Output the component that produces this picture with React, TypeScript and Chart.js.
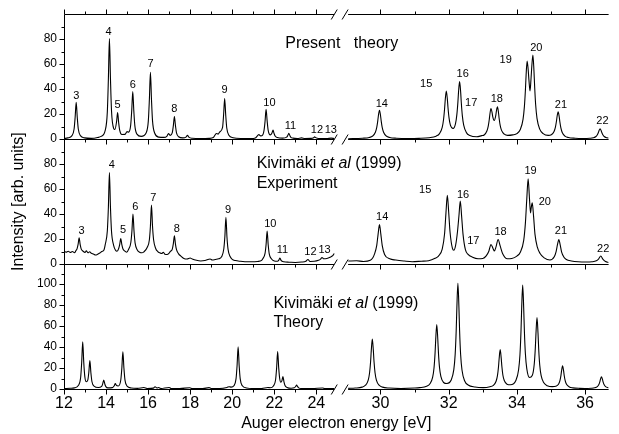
import React, { useEffect, useRef } from 'react';
import { Chart, registerables } from 'chart.js';
Chart.register(...registerables);

const FONT = '"Liberation Sans", Arial, Helvetica, sans-serif';

// Axis ranges (broken energy axis)
const leftMinE = 12;
const leftMaxE = 25.51;
const leftDataEnd = 24.85;
const rightMinE = 29.05;
const rightMaxE = 36.69;
const leftTickE = [12, 13, 14, 15, 16, 17, 18, 19, 20, 21, 22, 23, 24];
const rightTickE = [30, 31, 32, 33, 34, 35, 36];
const topMax = 100;
const midMax = 100;
const botMax = 119;

// ---- Present theory (top panel)
const presentLeftE = [12.0, 12.18, 12.38, 12.48, 12.53, 12.58, 12.63, 12.68, 12.78, 12.98, 13.3, 13.6, 13.76, 13.96, 14.06, 14.11, 14.16, 14.21, 14.26, 14.36, 14.42, 14.5, 14.55, 14.6, 14.65, 14.75, 14.9, 15.0, 15.07, 15.17, 15.22, 15.27, 15.32, 15.37, 15.47, 15.67, 15.91, 16.01, 16.06, 16.11, 16.16, 16.21, 16.31, 16.51, 16.75, 16.9, 16.97, 17.05, 17.15, 17.2, 17.25, 17.3, 17.35, 17.45, 17.65, 17.8, 17.87, 17.95, 18.1, 18.5, 18.9, 19.1, 19.25, 19.33, 19.4, 19.54, 19.59, 19.64, 19.69, 19.74, 19.84, 20.04, 20.4, 20.9, 21.1, 21.27, 21.35, 21.41, 21.51, 21.56, 21.61, 21.66, 21.71, 21.81, 21.89, 21.94, 21.99, 22.04, 22.14, 22.4, 22.59, 22.64, 22.69, 22.74, 22.79, 22.89, 23.1, 23.3, 23.45, 23.75, 23.87, 23.92, 23.97, 24.1, 24.5, 24.7, 24.85];
const presentLeftI = [0.5, 1.0, 2.8, 8.1, 17.5, 29.4, 17.5, 8.1, 2.8, 1.0, 0.6, 1.3, 2.2, 7.0, 21.6, 47.8, 80.5, 48.2, 22.5, 8.7, 7.7, 14.0, 21.2, 13.1, 7.0, 3.7, 3.8, 6.0, 5.6, 11.0, 22.6, 38.0, 22.6, 10.6, 4.0, 2.2, 5.1, 14.6, 31.8, 53.5, 31.8, 14.6, 4.9, 1.6, 1.4, 2.5, 4.5, 3.0, 5.2, 10.8, 18.0, 10.8, 5.0, 1.9, 1.0, 1.6, 3.0, 1.4, 0.7, 0.4, 0.6, 1.3, 4.5, 4.0, 5.7, 9.4, 19.5, 32.5, 19.3, 8.9, 3.1, 1.1, 0.5, 0.5, 1.0, 3.6, 2.6, 2.7, 6.8, 14.1, 23.8, 14.6, 7.0, 3.4, 4.9, 7.2, 4.5, 2.5, 1.3, 0.8, 1.6, 2.9, 4.6, 2.9, 1.5, 0.8, 0.5, 1.0, 0.5, 0.6, 1.2, 1.8, 1.2, 0.5, 0.4, 0.8, 0.5];
const presentRightE = [29.05, 29.47, 29.67, 29.77, 29.85, 29.89, 29.92, 29.94, 29.97, 30.0, 30.02, 30.05, 30.09, 30.17, 30.27, 30.47, 30.8, 31.13, 31.43, 31.63, 31.73, 31.81, 31.85, 31.88, 31.9, 31.93, 31.96, 31.98, 32.01, 32.05, 32.13, 32.2, 32.24, 32.27, 32.29, 32.32, 32.35, 32.37, 32.4, 32.44, 32.52, 32.62, 32.82, 32.97, 33.04, 33.12, 33.16, 33.19, 33.21, 33.24, 33.27, 33.29, 33.335, 33.38, 33.4, 33.43, 33.46, 33.48, 33.51, 33.55, 33.63, 33.73, 33.88, 34.0, 34.1, 34.18, 34.22, 34.25, 34.27, 34.3, 34.33, 34.355, 34.385, 34.415, 34.44, 34.47, 34.5, 34.52, 34.55, 34.59, 34.67, 34.77, 34.92, 35.01, 35.09, 35.13, 35.16, 35.18, 35.21, 35.24, 35.26, 35.29, 35.33, 35.41, 35.51, 35.71, 35.94, 36.14, 36.24, 36.32, 36.36, 36.39, 36.41, 36.44, 36.47, 36.49, 36.52, 36.56, 36.64, 36.69];
const presentRightI = [0.3, 0.7, 1.3, 2.5, 5.5, 9.4, 14.6, 19.1, 23.1, 19.1, 14.6, 9.4, 5.5, 2.5, 1.3, 0.7, 0.45, 0.6, 1.15, 2.4, 4.4, 9.4, 15.9, 24.5, 31.9, 38.5, 32.2, 25.1, 17.0, 11.2, 8.55, 12.4, 19.8, 29.6, 38.3, 46.0, 38.0, 29.1, 18.8, 11.2, 5.2, 2.9, 1.9, 2.8, 3.3, 6.45, 10.4, 15.7, 20.3, 24.5, 21.6, 18.2, 14.9, 18.8, 22.6, 25.8, 21.3, 16.5, 11.0, 7.0, 4.0, 3.0, 3.4, 4.4, 7.7, 15.8, 26.0, 39.4, 51.1, 62.6, 55.9, 46.7, 38.5, 48.6, 59.4, 67.4, 55.0, 42.5, 27.7, 16.6, 8.0, 4.4, 3.0, 3.5, 6.1, 9.6, 14.3, 18.3, 21.9, 18.1, 13.9, 9.0, 5.3, 2.4, 1.3, 0.7, 0.5, 0.7, 1.1, 2.1, 3.5, 5.3, 6.9, 8.3, 6.9, 5.3, 3.5, 2.1, 1.1, 0.9];

// ---- Kivimäki et al (1999) experiment (middle panel)
const expLeftE = [12.0, 12.1, 12.2, 12.3, 12.4, 12.5, 12.57, 12.62, 12.67, 12.72, 12.77, 12.82, 12.9, 13.0, 13.06, 13.14, 13.22, 13.3, 13.4, 13.5, 13.6, 13.7, 13.8, 13.9, 13.96, 14.06, 14.11, 14.16, 14.21, 14.26, 14.36, 14.45, 14.52, 14.6, 14.65, 14.7, 14.75, 14.8, 14.88, 14.98, 15.08, 15.18, 15.23, 15.28, 15.33, 15.38, 15.48, 15.6, 15.7, 15.8, 15.96, 16.06, 16.11, 16.16, 16.21, 16.26, 16.36, 16.46, 16.56, 16.65, 16.72, 16.8, 16.9, 17.0, 17.05, 17.15, 17.2, 17.25, 17.3, 17.35, 17.45, 17.55, 17.7, 17.85, 18.0, 18.1, 18.3, 18.5, 18.7, 18.95, 19.05, 19.2, 19.35, 19.5, 19.6, 19.65, 19.7, 19.75, 19.8, 19.9, 20.0, 20.15, 20.4, 20.6, 20.9, 21.2, 21.4, 21.46, 21.56, 21.61, 21.66, 21.71, 21.76, 21.86, 22.0, 22.15, 22.22, 22.27, 22.32, 22.45, 22.7, 23.0, 23.3, 23.5, 23.6, 23.7, 23.9, 24.1, 24.2, 24.27, 24.35, 24.5, 24.65, 24.78, 24.85];
const expLeftI = [10.4, 9.5, 10.2, 9.3, 10.0, 9.0, 10.8, 12.2, 15.7, 21.0, 15.5, 12.0, 10.4, 9.3, 10.6, 9.0, 9.8, 8.6, 8.0, 7.2, 7.8, 8.8, 10.0, 11.2, 15.5, 26.5, 45.0, 73.3, 45.0, 26.0, 15.0, 11.0, 10.2, 12.5, 15.8, 20.5, 15.5, 12.3, 10.5, 9.5, 12.0, 17.5, 26.5, 40.0, 26.2, 17.0, 11.5, 9.5, 9.0, 9.8, 13.5, 19.5, 30.5, 47.2, 30.0, 19.5, 12.5, 10.0, 9.0, 8.5, 9.5, 7.8, 7.6, 8.8, 10.0, 12.0, 16.3, 22.7, 16.0, 11.5, 8.2, 6.5, 4.5, 4.0, 4.8, 4.0, 3.0, 2.5, 2.8, 4.0, 3.2, 3.7, 4.2, 6.0, 12.3, 22.0, 37.5, 21.5, 12.0, 6.0, 3.8, 2.8, 2.2, 1.9, 1.8, 2.1, 3.0, 4.5, 8.5, 15.7, 26.4, 15.5, 8.2, 4.3, 2.5, 2.2, 3.3, 4.8, 3.0, 1.8, 1.5, 1.3, 1.6, 2.2, 3.7, 2.1, 2.2, 3.0, 4.0, 5.3, 4.2, 4.5, 5.5, 6.8, 8.5];
const expRightE = [29.05, 29.3, 29.5, 29.7, 29.77, 29.82, 29.89, 29.93, 29.97, 30.01, 30.05, 30.12, 30.27, 30.45, 30.7, 30.93, 31.2, 31.41, 31.6, 31.7, 31.81, 31.88, 31.92, 31.96, 32.0, 32.04, 32.11, 32.15, 32.2, 32.26, 32.3, 32.34, 32.38, 32.42, 32.49, 32.57, 32.7, 32.86, 33.0, 33.1, 33.18, 33.24, 33.3, 33.34, 33.39, 33.45, 33.51, 33.58, 33.72, 33.85, 34.0, 34.1, 34.2, 34.25, 34.29, 34.33, 34.37, 34.4, 34.42, 34.45, 34.49, 34.53, 34.6, 34.68, 34.8, 34.97, 35.1, 35.15, 35.19, 35.23, 35.27, 35.31, 35.38, 35.45, 35.6, 35.8, 36.03, 36.2, 36.33, 36.4, 36.46, 36.52, 36.6, 36.69];
const expRightI = [2.4, 2.6, 2.1, 3.0, 4.8, 7.7, 15.0, 24.0, 31.7, 24.0, 15.0, 7.7, 4.2, 3.2, 2.4, 1.9, 2.3, 2.7, 4.6, 6.4, 12.0, 24.5, 41.0, 55.0, 41.5, 25.5, 12.5, 11.0, 14.5, 26.5, 38.5, 50.4, 38.0, 24.0, 11.5, 7.7, 5.5, 4.3, 4.5, 6.5, 10.5, 15.7, 12.5, 10.4, 14.0, 19.7, 14.5, 8.5, 4.3, 4.5, 6.4, 9.5, 19.0, 33.0, 52.0, 68.3, 52.0, 41.0, 45.0, 49.0, 38.0, 24.0, 13.5, 8.5, 5.0, 3.2, 6.0, 10.0, 15.5, 19.7, 15.3, 9.8, 5.5, 3.7, 2.5, 1.8, 1.6, 1.8, 2.6, 4.2, 6.4, 4.0, 2.0, 1.3];

// ---- Kivimäki et al (1999) theory (bottom panel)
const kivLeftE = [12.0, 12.3, 12.49, 12.69, 12.79, 12.84, 12.89, 12.94, 12.99, 13.06, 13.13, 13.18, 13.23, 13.28, 13.33, 13.43, 13.63, 13.79, 13.84, 13.89, 13.94, 13.99, 14.09, 14.3, 14.39, 14.44, 14.49, 14.58, 14.7, 14.75, 14.8, 14.85, 14.9, 15.0, 15.2, 15.5, 15.8, 15.95, 16.25, 16.33, 16.42, 16.5, 16.6, 17.0, 17.1, 17.5, 17.98, 18.1, 18.6, 18.9, 19.0, 19.4, 19.75, 19.85, 19.95, 20.08, 20.18, 20.23, 20.28, 20.33, 20.38, 20.48, 20.68, 21.0, 21.4, 21.7, 21.8, 21.96, 22.06, 22.11, 22.16, 22.21, 22.26, 22.31, 22.36, 22.41, 22.46, 22.51, 22.61, 22.8, 22.95, 23.01, 23.06, 23.11, 23.16, 23.3, 23.8, 24.3, 24.4, 24.85];
const kivLeftI = [0.4, 0.7, 1.1, 3.5, 10.7, 24.8, 44.9, 25.3, 11.8, 6.9, 8.4, 15.8, 27.0, 15.2, 6.9, 2.7, 1.4, 2.5, 4.9, 8.5, 4.8, 2.3, 1.1, 1.3, 3.1, 5.1, 3.5, 2.9, 8.6, 19.8, 35.5, 19.7, 8.5, 2.75, 0.95, 0.6, 1.4, 0.5, 0.8, 2.2, 1.0, 1.4, 0.5, 1.5, 0.5, 0.4, 1.2, 0.4, 0.4, 1.3, 0.5, 0.5, 1.5, 2.2, 1.8, 3.1, 9.6, 22.2, 40.3, 22.2, 9.6, 3.1, 1.0, 0.5, 0.5, 1.4, 1.2, 2.9, 8.6, 19.8, 35.7, 20.1, 9.5, 6.5, 7.7, 11.9, 6.9, 3.4, 1.5, 0.7, 1.1, 2.3, 3.8, 2.3, 1.1, 0.5, 0.4, 1.0, 0.4, 0.4];
const kivRightE = [29.05, 29.26, 29.46, 29.56, 29.64, 29.68, 29.71, 29.73, 29.76, 29.79, 29.81, 29.84, 29.88, 29.96, 30.06, 30.26, 30.6, 31.0, 31.15, 31.35, 31.45, 31.53, 31.57, 31.6, 31.62, 31.65, 31.68, 31.7, 31.73, 31.77, 31.85, 31.95, 32.07, 32.15, 32.19, 32.22, 32.24, 32.27, 32.3, 32.32, 32.35, 32.39, 32.47, 32.57, 32.77, 33.01, 33.21, 33.31, 33.39, 33.43, 33.46, 33.48, 33.51, 33.54, 33.56, 33.59, 33.63, 33.71, 33.81, 33.97, 34.05, 34.09, 34.12, 34.14, 34.17, 34.2, 34.22, 34.25, 34.29, 34.37, 34.45, 34.51, 34.54, 34.56, 34.59, 34.62, 34.64, 34.67, 34.71, 34.79, 34.89, 35.04, 35.14, 35.22, 35.26, 35.29, 35.31, 35.34, 35.37, 35.39, 35.42, 35.46, 35.54, 35.64, 35.84, 36.0, 36.18, 36.28, 36.36, 36.4, 36.43, 36.45, 36.48, 36.51, 36.53, 36.56, 36.6, 36.69];
const kivRightI = [0.6, 0.9, 1.8, 3.6, 8.5, 15.5, 26.2, 36.8, 47.6, 36.8, 26.2, 15.5, 8.5, 3.6, 1.8, 0.9, 0.5, 0.9, 1.3, 2.6, 5.0, 11.3, 20.3, 34.0, 47.5, 61.5, 47.7, 34.3, 20.7, 12.0, 6.2, 5.2, 8.3, 18.4, 33.0, 55.6, 77.9, 100.6, 77.9, 55.5, 32.9, 18.1, 7.6, 3.8, 1.9, 1.3, 2.15, 3.5, 7.4, 12.7, 21.0, 29.1, 37.5, 29.4, 21.4, 13.1, 8.1, 4.6, 4.0, 8.1, 18.3, 32.6, 54.8, 76.5, 99.0, 76.7, 55.1, 33.3, 19.4, 11.0, 12.8, 24.1, 38.7, 53.2, 68.0, 52.8, 37.9, 22.8, 12.9, 5.9, 3.2, 2.3, 2.65, 4.5, 7.7, 12.5, 17.3, 22.2, 17.2, 12.4, 7.5, 4.2, 1.9, 1.1, 0.6, 0.5, 0.7, 1.1, 2.3, 4.0, 6.5, 9.1, 11.7, 9.1, 6.5, 4.0, 2.3, 1.2];

// ---- Peak labels (number, energy, intensity)
const presentLabelText = ['3', '4', '5', '6', '7', '8', '9', '10', '11', '12', '13', '14', '15', '16', '17', '18', '19', '20', '21', '22'];
const presentLabelE = [12.58, 14.12, 14.55, 15.27, 16.12, 17.25, 19.64, 21.77, 22.77, 24.03, 24.69, 30.04, 31.34, 32.41, 32.66, 33.41, 33.67, 34.57, 35.29, 36.51];
const presentLabelV = [34.5, 85.5, 27, 43.3, 59.8, 24.2, 39, 29, 10.4, 7.7, 7.2, 28.4, 44.4, 52.3, 29, 32, 63.5, 72.8, 27.3, 14.3];
const expLabelText = ['3', '4', '5', '6', '7', '8', '9', '10', '11', '12', '13', '14', '15', '16', '17', '18', '19', '20', '21', '22'];
const expLabelE = [12.84, 14.27, 14.81, 15.39, 16.25, 17.37, 19.8, 21.81, 22.39, 23.72, 24.39, 30.05, 31.31, 32.42, 32.72, 33.52, 34.4, 34.82, 35.29, 36.53];
const expLabelV = [26.4, 79, 27, 45.6, 53, 28.3, 43.7, 32.3, 11, 9.9, 11.2, 37.9, 59, 55, 18.1, 25.9, 74.7, 49.9, 26.1, 12.3];

const yTitle = 'Intensity [arb. units]';
const xTitle = 'Auger electron energy [eV]';

const pts = (e: number[], v: number[]) => e.map((x, i) => ({ x, y: v[i] }));
const line = (e: number[], v: number[], xAxisID: string, yAxisID: string) => ({
  data: pts(e, v),
  xAxisID,
  yAxisID,
  borderColor: '#000',
  borderWidth: 1.1,
  pointRadius: 0,
  fill: false,
  cubicInterpolationMode: 'monotone',
});

const overlay = {
  id: 'overlay',
  afterDatasetsDraw(chart: any) {
    const { ctx, chartArea, scales } = chart;
    const x1 = scales.x1;
    const x2 = scales.x2;
    const yTop = scales.yTop;
    const yMid = scales.yMid;
    const yBot = scales.yBot;
    const panels = [[yTop, topMax], [yMid, midMax], [yBot, botMax]];
    const L = Math.round(chartArea.left) + 0.5;
    const leftEnd = x1.getPixelForValue(leftDataEnd);
    const rightStart = x2.left;
    const right = x2.right;
    ctx.save();
    ctx.strokeStyle = '#000';
    ctx.fillStyle = '#000';
    ctx.lineWidth = 1;
    const seg = (ax: number, ay: number, bx: number, by: number) => {
      ctx.beginPath();
      ctx.moveTo(ax, ay);
      ctx.lineTo(bx, by);
      ctx.stroke();
    };
    // left axis line
    seg(L, Math.round(chartArea.top) + 0.5, L, Math.round(chartArea.bottom) + 0.5);
    // horizontal lines with breaks + x ticks
    const hys = [yTop.top, yTop.bottom, yMid.bottom, yBot.bottom];
    hys.forEach((hy: number, k: number) => {
      const yy = Math.round(hy) + 0.5;
      seg(L, yy, leftEnd, yy);
      seg(rightStart, yy, right, yy);
      const dir = k === 0 ? -1 : 1;
      leftTickE.forEach((e) => {
        const px = Math.round(x1.getPixelForValue(e)) + 0.5;
        const len = e % 2 === 0 ? 5 : 3;
        seg(px, yy, px, yy + dir * len);
      });
      rightTickE.forEach((e) => {
        const px = Math.round(x2.getPixelForValue(e)) + 0.5;
        const len = e % 2 === 0 ? 5 : 3;
        seg(px, yy, px, yy + dir * len);
      });
      // break marks
      seg(leftEnd - 3, yy + 5, leftEnd + 3, yy - 5);
      seg(rightStart - 6, yy + 5, rightStart, yy - 5);
    });
    // y ticks
    panels.forEach(([sc, mx]: any) => {
      for (let v = 0; v < mx - 0.01; v += 10) {
        const py = Math.round(sc.getPixelForValue(v)) + 0.5;
        const len = v % 20 === 0 ? 5 : 3;
        seg(L - len, py, L, py);
      }
    });
    // peak labels
    ctx.font = `11px ${FONT}`;
    ctx.textAlign = 'center';
    ctx.textBaseline = 'middle';
    const drawLabels = (txt: string[], es: number[], vs: number[], ys: any) => {
      txt.forEach((t, i) => {
        const xs = es[i] < 27 ? x1 : x2;
        ctx.fillText(t, xs.getPixelForValue(es[i]), ys.getPixelForValue(vs[i]));
      });
    };
    drawLabels(presentLabelText, presentLabelE, presentLabelV, yTop);
    drawLabels(expLabelText, expLabelE, expLabelV, yMid);
    // panel titles
    ctx.textAlign = 'left';
    const rich = (parts: [string, boolean][], x: number, y: number) => {
      let cx = x;
      parts.forEach(([t, it]) => {
        ctx.font = `${it ? 'italic ' : ''}16px ${FONT}`;
        ctx.fillText(t, cx, y);
        cx += ctx.measureText(t).width;
      });
    };
    rich([['Present   theory', false]], x1.getPixelForValue(22.52), yTop.getPixelForValue(76.8));
    rich([['Kivimäki ', false], ['et al', true], [' (1999)', false]], x1.getPixelForValue(21.16), yMid.getPixelForValue(80.8));
    rich([['Experiment', false]], x1.getPixelForValue(21.16), yMid.getPixelForValue(64.8));
    rich([['Kivimäki ', false], ['et al', true], [' (1999)', false]], x1.getPixelForValue(21.96), yBot.getPixelForValue(81.6));
    rich([['Theory', false]], x1.getPixelForValue(21.96), yBot.getPixelForValue(63.3));
    // axis titles
    ctx.font = `16px ${FONT}`;
    ctx.textAlign = 'center';
    ctx.fillText(xTitle, (chartArea.left + chartArea.right) / 2, 424);
    ctx.translate(19, (chartArea.top + chartArea.bottom) / 2);
    ctx.rotate(-Math.PI / 2);
    ctx.fillText(yTitle, 0, 0);
    ctx.restore();
  },
};

const xAxis = (min: number, max: number, w: number, weight: number) => ({
  type: 'linear',
  position: 'bottom',
  stack: 'energy',
  stackWeight: w,
  weight,
  min,
  max,
  grid: { display: false, drawTicks: false },
  border: { display: false },
  ticks: {
    stepSize: 1,
    includeBounds: false,
    autoSkip: false,
    maxRotation: 0,
    padding: 5,
    color: '#000',
    font: { family: FONT, size: 16 },
    callback: (v: number) => (Number.isInteger(v) && v % 2 === 0 && v <= 36 ? String(v) : null),
  },
  afterFit: (s: any) => {
    s.height = 45;
  },
});

const yAxis = (max: number, weight: number) => ({
  type: 'linear',
  position: 'left',
  stack: 'intensity',
  stackWeight: 1,
  weight,
  min: 0,
  max,
  grid: { display: false, drawTicks: false },
  border: { display: false },
  ticks: {
    stepSize: 10,
    includeBounds: false,
    autoSkip: false,
    padding: 7,
    color: '#000',
    font: { family: FONT, size: 12 },
    callback: (v: number) => (v % 20 === 0 && v < Math.min(max, 100.5) && !(v === 100 && max <= 100) ? String(v) : null),
  },
  afterFit: (s: any) => {
    s.width = 64;
  },
});

export default function App() {
  const ref = useRef<HTMLCanvasElement>(null);
  useEffect(() => {
    const chart = new Chart(ref.current as HTMLCanvasElement, {
      type: 'line',
      data: {
        datasets: [
          line(presentLeftE, presentLeftI, 'x1', 'yTop'),
          line(presentRightE, presentRightI, 'x2', 'yTop'),
          line(expLeftE, expLeftI, 'x1', 'yMid'),
          line(expRightE, expRightI, 'x2', 'yMid'),
          line(kivLeftE, kivLeftI, 'x1', 'yBot'),
          line(kivRightE, kivRightI, 'x2', 'yBot'),
        ] as any,
      },
      options: {
        responsive: false,
        devicePixelRatio: 1,
        animation: false,
        events: [],
        layout: { padding: { left: 0, top: 14, right: 1, bottom: 0 } },
        plugins: { legend: { display: false }, tooltip: { enabled: false } },
        scales: {
          x1: xAxis(leftMinE, leftMaxE, 289, 0),
          x2: xAxis(rightMinE, rightMaxE, 265, 1),
          yBot: yAxis(botMax, 1),
          yMid: yAxis(midMax, 2),
          yTop: yAxis(topMax, 3),
        } as any,
      },
      plugins: [overlay],
    } as any);
    return () => chart.destroy();
  }, []);
  return (
    <div style={{ position: 'absolute', left: 0, top: 0, width: 619, height: 434, background: '#fff' }}>
      <canvas ref={ref} width={619} height={434} style={{ display: 'block', width: 619, height: 434 }} />
    </div>
  );
}
